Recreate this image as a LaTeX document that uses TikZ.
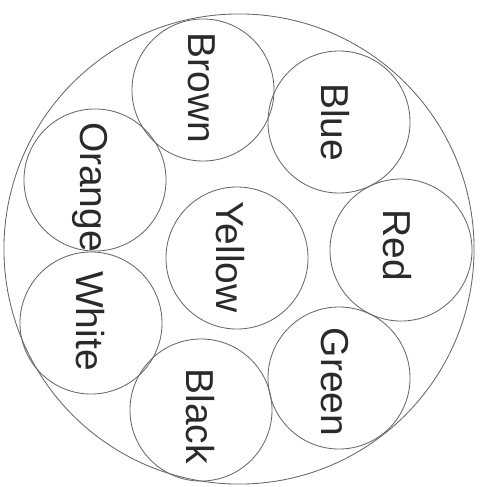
\documentclass[tikz,border=0pt]{standalone}
\usepackage{fontspec}
\setmainfont{Liberation Sans}
\usepackage{tikz}
\definecolor{cabline}{HTML}{666666}
\definecolor{cabink}{HTML}{2A2A2A}
\tikzset{
  jacket/.style={circle, draw=cabline, line width=0.6pt, minimum size=11.75cm, inner sep=0pt},
  core/.style={circle, draw=cabline, line width=0.6pt, minimum size=3.55cm, inner sep=0pt},
  clbl/.style={rotate=-90, inner sep=0pt, color=cabink, font=\fontsize{27.7}{30}\selectfont},
}
\begin{document}
\begin{tikzpicture}[x=0.025cm, y=-0.025cm]
    \useasboundingbox (0,0) rectangle (482,487);
    \node[jacket] (cable) at (239,249) {};
    % the eight cores: name / circle centre / text centre / label
    \foreach \n/\cx/\cy/\tx/\ty/\t in {brown/203/90/202/88/Brown, blue/339/122/335/122/Blue,
        red/401/250/397/245/Red, green/339/378/335/382/Green, black/201/410/200/416/Black,
        white/91/323/90/321/White, orange/95/180/90/187/Orange, yellow/237/258/230/257/Yellow} {
      \node[core] (\n) at (\cx,\cy) {};
      \node[clbl] (\n-t) at (\tx,\ty) {\t};
    }
  \end{tikzpicture}
\end{document}
